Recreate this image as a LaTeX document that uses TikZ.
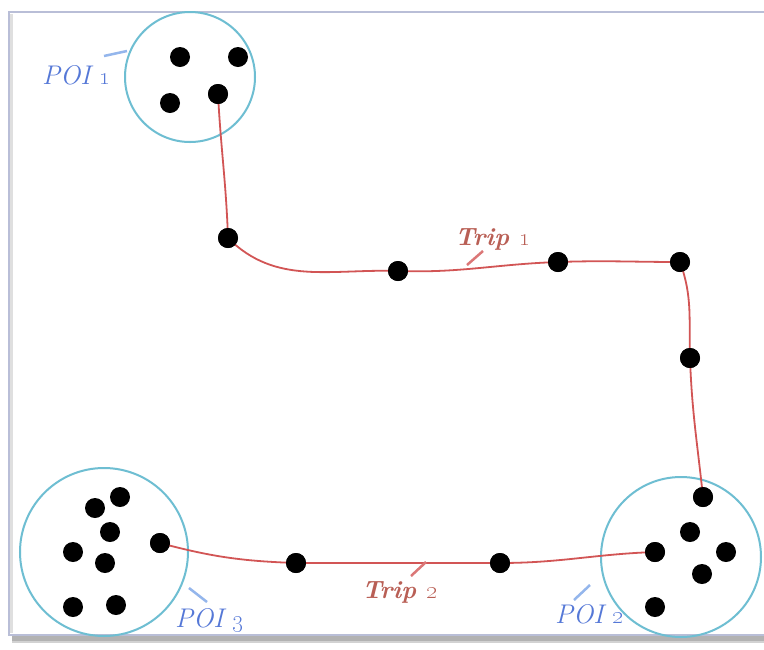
\documentclass[tikz,border=0pt]{standalone}
\definecolor{poicol}{RGB}{110,190,210}
\definecolor{tripcol}{RGB}{210,85,85}
\definecolor{triptext}{RGB}{185,95,85}
\definecolor{poitext}{RGB}{85,120,215}
\definecolor{framecol}{RGB}{185,190,215}
\tikzset{
  pt/.style={circle,fill=black,inner sep=0pt,minimum size=20pt},
  poi/.style={circle,draw=poicol,line width=2pt,inner sep=0pt},
  trip/.style={draw=tripcol,line width=1.8pt},
  poilab/.style={text=poitext,font=\fontsize{27}{30}\selectfont\itshape,inner sep=0pt},
  triplab/.style={text=triptext,font=\fontsize{25}{28}\selectfont\itshape\bfseries,inner sep=0pt},
  poilead/.style={draw=poicol!70!blue!60,line width=2.5pt},
  triplead/.style={draw=tripcol!80,line width=2.5pt},
}
\begin{document}
\begin{tikzpicture}[x=1pt,y=-1pt]
\useasboundingbox (0,0) rectangle (764,649);
\fill[white] (0,0) rectangle (764,649);
% frame
\fill[gray!60] (12,636) rectangle (790,641);
\fill[gray!35] (12,641) rectangle (790,643);
\draw[framecol,line width=1.5pt,fill=white] (9,12) rectangle (790,635);
\draw[gray!25,line width=3pt] (11,14) -- (11,633);
% POI circles
\node[poi,minimum size=130pt] (c1) at (190,77) {};
\node[poi,minimum size=168pt] (c3) at (104,552) {};
\node[poi,minimum size=160pt] (c2) at (681,557) {};
% POI 1 points
\node[pt] (a1) at (180,57) {};
\node[pt] (a2) at (238,57) {};
\node[pt] (a3) at (170,103) {};
\node[pt] (a4) at (218,94) {};
% POI 3 points
\node[pt] (b1) at (120,497) {};
\node[pt] (b2) at (95,508) {};
\node[pt] (b3) at (110,532) {};
\node[pt] (b4) at (73,552) {};
\node[pt] (b5) at (105,563) {};
\node[pt] (b6) at (160,543) {};
\node[pt] (b7) at (73,607) {};
\node[pt] (b8) at (116,605) {};
% POI 2 points
\node[pt] (d1) at (703,497) {};
\node[pt] (d2) at (690,532) {};
\node[pt] (d3) at (655,552) {};
\node[pt] (d4) at (726,552) {};
\node[pt] (d5) at (702,574) {};
\node[pt] (d6) at (655,607) {};
% trip points
\node[pt] (t1) at (228,238) {};
\node[pt] (t2) at (398,271) {};
\node[pt] (t3) at (558,262) {};
\node[pt] (t4) at (680,262) {};
\node[pt] (t5) at (690,358) {};
\node[pt] (s1) at (296,563) {};
\node[pt] (s2) at (500,563) {};
% trips
\path[trip] (a4.center) to[out=-87,in=92] (t1.center)
  to[out=-45,in=178] (t2.center)
  to[out=-2,in=182] (t3.center)
  to[out=2,in=180] (t4.center)
  to[out=-70,in=92] (t5.center)
  to[out=-88,in=96] (d1.center);
\path[trip] (b6.center) to[out=-15,in=178] (s1.center)
  to[out=0,in=180] (s2.center)
  to[out=0,in=182] (d3.center);
% redraw dots over lines
\foreach \n in {a4,t1,t2,t3,t4,t5,d1,b6,s1,s2,d3} \fill[black] (\n) circle (10pt);
% labels
\node[poilab,anchor=west] (l1) at (42,75) {POI \oldstylenums{1}};
\node[poilab,anchor=west] (l3) at (175,620) {POI \oldstylenums{3}};
\node[poilab,anchor=west] (l2) at (555,614) {POI \oldstylenums{2}};
\node[triplab,anchor=west] (r1) at (455,239) {Trip \oldstylenums{1}};
\node[triplab,anchor=west] (r2) at (362,592) {Trip \oldstylenums{2}};
% leaders
\coordinate (p1a) at (104,56); \coordinate (p1b) at (127,51);
\draw[poilead] (p1a) -- (p1b);
\coordinate (p3a) at (189,588); \coordinate (p3b) at (207,602);
\draw[poilead] (p3a) -- (p3b);
\coordinate (p2a) at (574,600); \coordinate (p2b) at (590,585);
\draw[poilead] (p2a) -- (p2b);
\coordinate (q1a) at (467,265); \coordinate (q1b) at (483,251);
\draw[triplead] (q1a) -- (q1b);
\coordinate (q2a) at (411,576); \coordinate (q2b) at (426,562);
\draw[triplead] (q2a) -- (q2b);
\end{tikzpicture}
\end{document}
